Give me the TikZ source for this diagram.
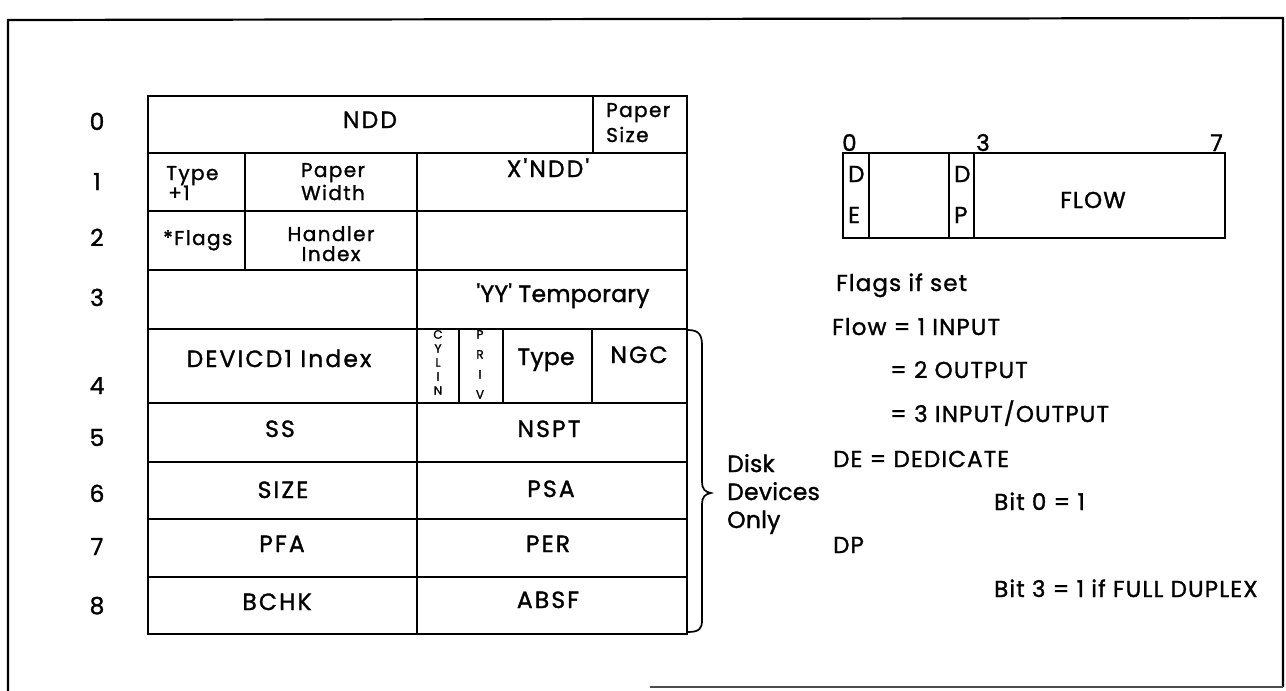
\documentclass[tikz,border=0pt]{standalone}
\usepackage{fontspec}
\setmainfont{Poppins}[Ligatures=TeXOff, FakeBold=1.3]
\begin{document}
\begin{tikzpicture}[x=1pt,y=-1pt,
  grid/.style={line width=1.9pt, line cap=round},
  frame/.style={line width=2.2pt},
  big/.style={font=\fontsize{23.5}{26}\selectfont\addfontfeature{LetterSpace=9}, inner sep=0pt, anchor=base},
  bigm/.style={font=\fontsize{23.5}{26}\selectfont\addfontfeature{LetterSpace=1}, inner sep=0pt, anchor=base},
  bigl/.style={bigm, anchor=base west},
  med/.style={font=\fontsize{23}{26}\selectfont\addfontfeature{LetterSpace=5}, inner sep=0pt, anchor=base west},
  sml/.style={font=\fontsize{20}{22}\selectfont\addfontfeature{LetterSpace=7}, inner sep=0pt, anchor=base west},
  tiny/.style={font=\fontsize{12}{14}\selectfont, inner sep=0pt, align=center, anchor=north}
]
\useasboundingbox (0,0) rectangle (1286,691);

% outer frame
\draw[frame] (8,691) -- (8,20) -- (1283,18) -- (1283,687);
\draw[line width=1.2pt, black!70] (650,687) -- (1283,687);

% ---------- main table ----------
\draw[grid] (148,96) rectangle (687,634);
\foreach \yy in {153,211,270,329,403,462,519,577}
  \draw[grid] (148,\yy) -- (687,\yy);
\draw[grid] (593,96) -- (593,153);
\draw[grid] (245,153) -- (245,270);
\draw[grid] (417,153) -- (417,634);
\draw[grid] (459,329) -- (459,403);
\draw[grid] (503,329) -- (503,403);
\draw[grid] (592,329) -- (592,403);

% row labels
\node[big] (r0) at (97,130) {0};
\node[big] (r1) at (97,190) {1};
\node[big] (r2) at (97,246) {2};
\node[big] (r3) at (97,306) {3};
\node[big] (r4) at (97,394) {4};
\node[big] (r5) at (97,446) {5};
\node[big] (r6) at (97,502) {6};
\node[big] (r7) at (97,555) {7};
\node[big] (r8) at (97,614) {8};

% cell texts
\node[big] (ndd) at (370,128) {NDD};
\node[sml] (psz1) at (606,117) {Paper};
\node[sml] (psz2) at (606,142) {Size};
\node[sml] (typ1) at (166,180) {Type};
\node[sml] (typ2) at (168,200) {+1};
\node[sml, anchor=base] (pw1) at (333,177) {Paper};
\node[sml, anchor=base] (pw2) at (333,200) {Width};
\node[big] (xndd) at (548,177) {X'NDD'};
\node[sml] (flg) at (163,245) {*Flags};
\node[sml, anchor=base] (hi1) at (331,241) {Handler};
\node[sml, anchor=base] (hi2) at (331,261) {Index};
\node[bigm] (yy) at (563,302) {'YY' Temporary};
\node[big] (dev) at (279,367) {DEVICD1 Index};
\node[tiny] (cyl) at (438,330) {C\\Y\\L\\I\\N};
\node[tiny, font=\fontsize{12}{20}\selectfont] (prv) at (480,330) {P\\R\\I\\V};
\node[bigm] (typ) at (546,365) {Type};
\node[big] (ngc) at (639,363) {NGC};
\node[big] (ss) at (280,437) {SS};
\node[big] (nspt) at (549,437) {NSPT};
\node[big] (size) at (283,498) {SIZE};
\node[big] (psa) at (551,497) {PSA};
\node[big] (pfa) at (282,552) {PFA};
\node[big] (per) at (548,552) {PER};
\node[big] (bchk) at (277,610) {BCHK};
\node[big] (absf) at (548,608) {ABSF};

% brace
\draw[grid, line width=1.7pt] (688,330) .. controls (700,330) and (702,336) .. (702,346) -- (702,482)
  .. controls (702,489) and (705,492) .. (711,493)
  .. controls (705,494) and (702,497) .. (702,504) -- (702,620)
  .. controls (702,628) and (700,632) .. (688,632);
\node[bigl] (disk1) at (727,472) {Disk};
\node[bigl] (disk2) at (727,500) {Devices};
\node[bigl] (disk3) at (727,528) {Only};

% ---------- flag byte ----------
\draw[grid] (843,153) rectangle (1225,238);
\draw[grid] (869,153) -- (869,238);
\draw[grid] (949,153) -- (949,238);
\draw[grid] (974,153) -- (974,238);
\node[med] (b0) at (842,151) {0};
\node[med] (b3) at (976,151) {3};
\node[med, anchor=base east] (b7) at (1223,151) {7};
\node[med] (de1) at (848,182) {D};
\node[med] (de2) at (848,223) {E};
\node[med] (dp1) at (954,182) {D};
\node[med] (dp2) at (954,223) {P};
\node[med, anchor=base] (flow) at (1093,208) {FLOW};

% ---------- legend ----------
\node[med] (l1) at (836,291) {Flags if set};
\node[med] (l2) at (832,335) {Flow = 1 INPUT};
\node[med] (l3) at (890,378) {= 2 OUTPUT};
\node[med] (l4) at (890,422) {= 3 INPUT/OUTPUT};
\node[med] (l5) at (833,467) {DE = DEDICATE};
\node[med] (l6) at (994,510) {Bit 0 = 1};
\node[med] (l7) at (833,553) {DP};
\node[med] (l8) at (994,597) {Bit 3 = 1 if FULL DUPLEX};
\end{tikzpicture}
\end{document}
